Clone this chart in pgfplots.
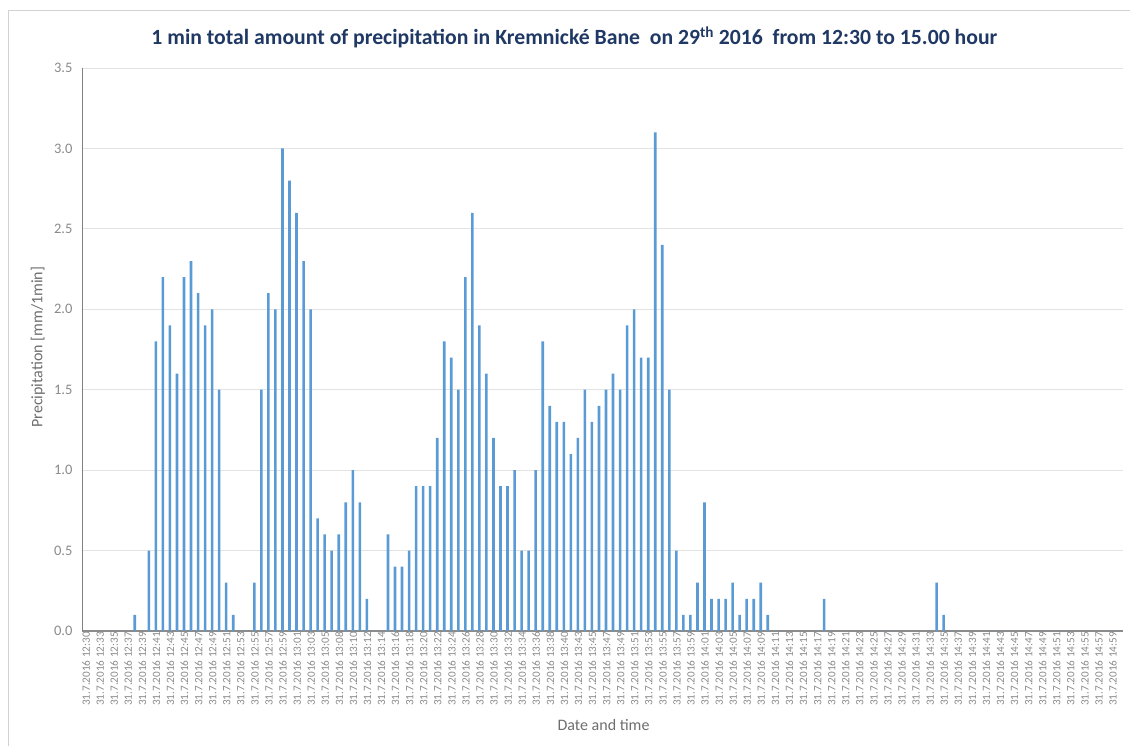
\documentclass[border=0pt]{standalone}
\usepackage{pgfplots}
\pgfplotsset{compat=1.18}
\usepackage{fontspec}
\setmainfont{Carlito}
\definecolor{barblue}{HTML}{5B9BD5}
\definecolor{titleblue}{HTML}{1F3864}
\definecolor{gridgray}{HTML}{E3E3E3}
\definecolor{axisgray}{HTML}{8C8C8C}
\definecolor{ticktext}{HTML}{8A8A8A}
\definecolor{labeltext}{HTML}{6E6E6E}
\newcommand{\lbl}[1]{31.7.2016 #1}
\begin{document}
\begin{tikzpicture}
\path[use as bounding box] (0,0) rectangle (1130pt,746pt);
% chart area border
\draw[gray!35, line width=0.8pt] (8pt,0) -- (8pt,736pt) -- (1130pt,736pt);

\begin{axis}[
  at={(82pt,115pt)}, anchor=south west,
  scale only axis, width=1041pt, height=563pt,
  xmin=-0.5, xmax=147.5,
  ymin=0, ymax=3.5,
  ytick={0,0.5,...,3.5},
  xtick={0,2,...,146},
  xticklabels={\lbl{12:30},\lbl{12:33},\lbl{12:35},\lbl{12:37},\lbl{12:39},\lbl{12:41},\lbl{12:43},\lbl{12:45},\lbl{12:47},\lbl{12:49},\lbl{12:51},\lbl{12:53},\lbl{12:55},\lbl{12:57},\lbl{12:59},\lbl{13:01},\lbl{13:03},\lbl{13:05},\lbl{13:08},\lbl{13:10},\lbl{13:12},\lbl{13:14},\lbl{13:16},\lbl{13:18},\lbl{13:20},\lbl{13:22},\lbl{13:24},\lbl{13:26},\lbl{13:28},\lbl{13:30},\lbl{13:32},\lbl{13:34},\lbl{13:36},\lbl{13:38},\lbl{13:40},\lbl{13:43},\lbl{13:45},\lbl{13:47},\lbl{13:49},\lbl{13:51},\lbl{13:53},\lbl{13:55},\lbl{13:57},\lbl{13:59},\lbl{14:01},\lbl{14:03},\lbl{14:05},\lbl{14:07},\lbl{14:09},\lbl{14:11},\lbl{14:13},\lbl{14:15},\lbl{14:17},\lbl{14:19},\lbl{14:21},\lbl{14:23},\lbl{14:25},\lbl{14:27},\lbl{14:29},\lbl{14:31},\lbl{14:33},\lbl{14:35},\lbl{14:37},\lbl{14:39},\lbl{14:41},\lbl{14:43},\lbl{14:45},\lbl{14:47},\lbl{14:49},\lbl{14:51},\lbl{14:53},\lbl{14:55},\lbl{14:57},\lbl{14:59}},
  x tick label style={rotate=90, anchor=east, font=\fontsize{11.2}{12}\selectfont, text=ticktext, inner sep=1pt, yshift=-0.5pt},
  y tick label style={font=\fontsize{14.5}{16}\selectfont, text=ticktext, xshift=-6pt},
  /pgf/number format/assume math mode=true,
  yticklabel={\pgfmathprintnumber[fixed,fixed zerofill,precision=1]{\tick}},
  major tick length=0pt,
  ymajorgrids, grid style={gridgray, line width=0.8pt},
  axis x line*=bottom, axis y line*=left,
  x axis line style={axisgray, line width=1.2pt, -},
  y axis line style={axisgray!110, line width=0.9pt, -},
  title={1 min total amount of precipitation in Kremnické Bane\ \ on 29\textsuperscript{th} 2016\ \ from 12:30 to 15.00 hour},
  title style={at={(axis description cs:0.473,1.044)}, anchor=center, font=\bfseries\fontsize{21.7}{24}\selectfont, text=titleblue},
  xlabel={Date and time},
  xlabel style={at={(axis description cs:0.501,-0.167)}, anchor=center, font=\fontsize{16}{18}\selectfont, text=labeltext},
  ylabel={Precipitation [mm/1min]},
  ylabel style={at={(axis description cs:-0.0423,0.504)}, anchor=center, font=\fontsize{16}{18}\selectfont, text=labeltext},
]
\addplot[ybar, bar width=2.6pt, fill=barblue, draw=none] coordinates {
(0,0) (1,0) (2,0) (3,0) (4,0) (5,0) (6,0) (7,0.1) (8,0) (9,0.5)
(10,1.8) (11,2.2) (12,1.9) (13,1.6) (14,2.2) (15,2.3) (16,2.1) (17,1.9) (18,2.0) (19,1.5)
(20,0.3) (21,0.1) (22,0) (23,0) (24,0.3) (25,1.5) (26,2.1) (27,2.0) (28,3.0) (29,2.8)
(30,2.6) (31,2.3) (32,2.0) (33,0.7) (34,0.6) (35,0.5) (36,0.6) (37,0.8) (38,1.0) (39,0.8)
(40,0.2) (41,0) (42,0) (43,0.6) (44,0.4) (45,0.4) (46,0.5) (47,0.9) (48,0.9) (49,0.9)
(50,1.2) (51,1.8) (52,1.7) (53,1.5) (54,2.2) (55,2.6) (56,1.9) (57,1.6) (58,1.2) (59,0.9)
(60,0.9) (61,1.0) (62,0.5) (63,0.5) (64,1.0) (65,1.8) (66,1.4) (67,1.3) (68,1.3) (69,1.1)
(70,1.2) (71,1.5) (72,1.3) (73,1.4) (74,1.5) (75,1.6) (76,1.5) (77,1.9) (78,2.0) (79,1.7)
(80,1.7) (81,3.1) (82,2.4) (83,1.5) (84,0.5) (85,0.1) (86,0.1) (87,0.3) (88,0.8) (89,0.2)
(90,0.2) (91,0.2) (92,0.3) (93,0.1) (94,0.2) (95,0.2) (96,0.3) (97,0.1) (98,0) (99,0)
(100,0) (101,0) (102,0) (103,0) (104,0) (105,0.2) (106,0) (107,0) (108,0) (109,0)
(110,0) (111,0) (112,0) (113,0) (114,0) (115,0) (116,0) (117,0) (118,0) (119,0)
(120,0) (121,0.3) (122,0.1) (123,0) (124,0) (125,0) (126,0) (127,0) (128,0) (129,0)
(130,0) (131,0) (132,0) (133,0) (134,0) (135,0) (136,0) (137,0) (138,0) (139,0)
(140,0) (141,0) (142,0) (143,0) (144,0) (145,0) (146,0) (147,0)
};
\end{axis}
\end{tikzpicture}
\end{document}
